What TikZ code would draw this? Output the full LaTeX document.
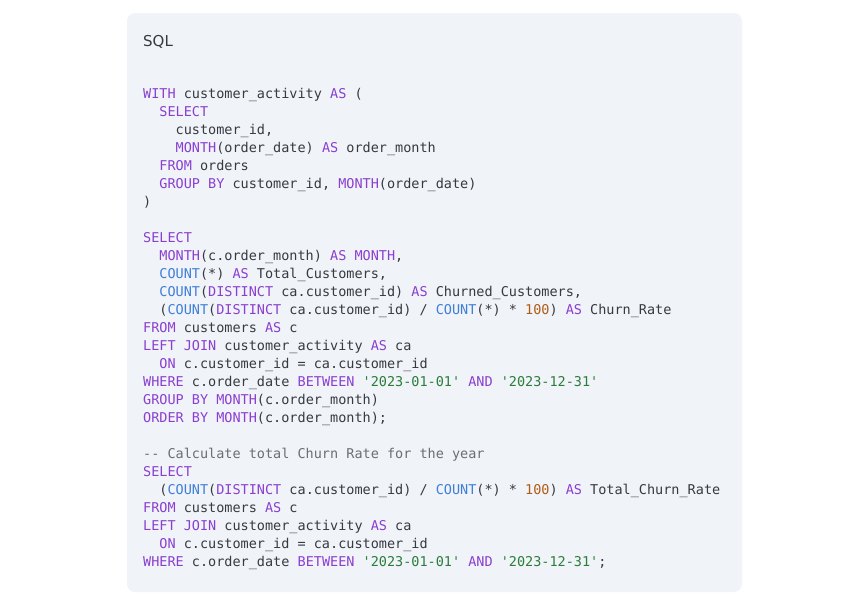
\documentclass[tikz,border=0pt]{standalone}
\usepackage{fontspec}
\setmonofont{DejaVu Sans Mono}
\newfontfamily\titlefont{DejaVu Sans}
\definecolor{bgc}{HTML}{F0F3F8}
\definecolor{kwc}{HTML}{8A3FD1}
\definecolor{fnc}{HTML}{3F7FD8}
\definecolor{numc}{HTML}{B35A12}
\definecolor{strc}{HTML}{2A7D3A}
\definecolor{cmc}{HTML}{6B6E75}
\definecolor{txc}{HTML}{383A42}
\newcommand\kw[1]{\textcolor{kwc}{#1}}
\newcommand\fn[1]{\textcolor{fnc}{#1}}
\newcommand\nm[1]{\textcolor{numc}{#1}}
\newcommand\st[1]{\textcolor{strc}{#1}}
\newcommand\cm[1]{\textcolor{cmc}{#1}}
\newcommand\ind[1]{\hspace*{#1\fontcharwd\font`0}}
\begin{document}
\begin{tikzpicture}[x=1pt,y=-1pt,
  code/.style={anchor=base west,inner sep=0pt,font=\ttfamily\fontsize{13.5}{18}\selectfont,text=txc}]
\useasboundingbox (0,0) rectangle (841,595);
\fill[bgc,rounded corners=8pt] (127,13) rectangle (742,592);
\node[anchor=base west,inner sep=0pt,font=\titlefont\fontsize{15}{18}\selectfont,text=txc] (title) at (143,46) {SQL};
\node[code] (l1) at (143,98) {\kw{WITH} customer\_activity \kw{AS} (};
\node[code] (l2) at (143,116) {\ind{2}\kw{SELECT}};
\node[code] (l3) at (143,134) {\ind{4}customer\_id,};
\node[code] (l4) at (143,152) {\ind{4}\kw{MONTH}(order\_date) \kw{AS} order\_month};
\node[code] (l5) at (143,170) {\ind{2}\kw{FROM} orders};
\node[code] (l6) at (143,188) {\ind{2}\kw{GROUP BY} customer\_id, \kw{MONTH}(order\_date)};
\node[code] (l7) at (143,206) {)};
\node[code] (l8) at (143,242) {\kw{SELECT}};
\node[code] (l9) at (143,260) {\ind{2}\kw{MONTH}(c.order\_month) \kw{AS} \kw{MONTH},};
\node[code] (l10) at (143,278) {\ind{2}\fn{COUNT}(*) \kw{AS} Total\_Customers,};
\node[code] (l11) at (143,296) {\ind{2}\fn{COUNT}(\kw{DISTINCT} ca.customer\_id) \kw{AS} Churned\_Customers,};
\node[code] (l12) at (143,314) {\ind{2}(\fn{COUNT}(\kw{DISTINCT} ca.customer\_id) / \fn{COUNT}(*) * \nm{100}) \kw{AS} Churn\_Rate};
\node[code] (l13) at (143,332) {\kw{FROM} customers \kw{AS} c};
\node[code] (l14) at (143,350) {\kw{LEFT JOIN} customer\_activity \kw{AS} ca};
\node[code] (l15) at (143,368) {\ind{2}\kw{ON} c.customer\_id = ca.customer\_id};
\node[code] (l16) at (143,386) {\kw{WHERE} c.order\_date \kw{BETWEEN} \st{'2023-01-01'} \kw{AND} \st{'2023-12-31'}};
\node[code] (l17) at (143,404) {\kw{GROUP BY} \kw{MONTH}(c.order\_month)};
\node[code] (l18) at (143,422) {\kw{ORDER BY} \kw{MONTH}(c.order\_month);};
\node[code] (l19) at (143,458) {\cm{-{}- Calculate total Churn Rate for the year}};
\node[code] (l20) at (143,476) {\kw{SELECT}};
\node[code] (l21) at (143,494) {\ind{2}(\fn{COUNT}(\kw{DISTINCT} ca.customer\_id) / \fn{COUNT}(*) * \nm{100}) \kw{AS} Total\_Churn\_Rate};
\node[code] (l22) at (143,512) {\kw{FROM} customers \kw{AS} c};
\node[code] (l23) at (143,530) {\kw{LEFT JOIN} customer\_activity \kw{AS} ca};
\node[code] (l24) at (143,548) {\ind{2}\kw{ON} c.customer\_id = ca.customer\_id};
\node[code] (l25) at (143,566) {\kw{WHERE} c.order\_date \kw{BETWEEN} \st{'2023-01-01'} \kw{AND} \st{'2023-12-31'};};
\end{tikzpicture}
\end{document}
